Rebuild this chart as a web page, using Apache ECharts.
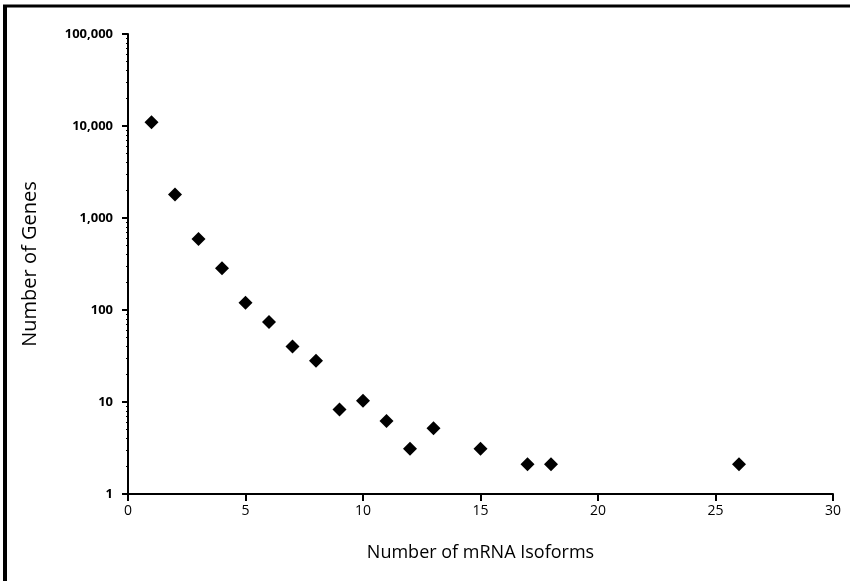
<!DOCTYPE html>
<html>
<head>
<meta charset="utf-8">
<script src="https://cdn.jsdelivr.net/npm/echarts@6/dist/echarts.min.js"></script>
<style>
  html, body { margin: 0; padding: 0; background: #fff; }
  #chart { width: 850px; height: 581px; }
</style>
</head>
<body>
<div id="chart"></div>
<script>
// isoform counts and number of genes
const isoforms = [1, 2, 3, 4, 5, 6, 7, 8, 9, 10, 11, 12, 13, 15, 17, 18, 26];
const geneCounts = [11000, 1800, 590, 285, 120, 74, 40, 28, 8.3, 10.3, 6.2, 3.1, 5.2, 3.1, 2.1, 2.1, 2.1];
const yTickLabels = { 1: '1', 10: '10', 100: '100', 1000: '1,000', 10000: '10,000', 100000: '100,000' };

const chart = echarts.init(document.getElementById('chart'));

const font = '"Open Sans", "Noto Sans", sans-serif';

const option = {
  animation: false,
  backgroundColor: '#fff',
  graphic: [
    // scanned page edge (left and top)
    { type: 'line', shape: { x1: 5, y1: 6, x2: 5, y2: 581 }, style: { stroke: '#000', lineWidth: 4 } },
    { type: 'line', shape: { x1: 3, y1: 6, x2: 850, y2: 6 }, style: { stroke: '#000', lineWidth: 3 } }
  ],
  grid: {
    left: 128,
    right: 17,
    top: 34,
    bottom: 87
  },
  xAxis: {
    type: 'value',
    min: 0,
    max: 30,
    interval: 5,
    name: 'Number of mRNA Isoforms',
    nameLocation: 'middle',
    nameGap: 50,
    nameTextStyle: { color: '#000', fontSize: 18, fontFamily: font },
    axisLine: { show: true, lineStyle: { color: '#000', width: 2 } },
    axisTick: { show: true, length: 7, lineStyle: { color: '#000', width: 2 } },
    axisLabel: { color: '#000', fontSize: 14, fontFamily: font, margin: 10 },
    splitLine: { show: false }
  },
  yAxis: {
    type: 'log',
    logBase: 10,
    min: 1,
    max: 100000,
    name: 'Number of Genes',
    nameLocation: 'middle',
    nameGap: 88,
    nameTextStyle: { color: '#000', fontSize: 20, fontFamily: font },
    axisLine: { show: true, lineStyle: { color: '#000', width: 2 } },
    axisTick: { show: true, length: 6, lineStyle: { color: '#000', width: 2 } },
    minorTick: { show: true, splitNumber: 9, length: 2, lineStyle: { color: '#000', width: 1 } },
    axisLabel: {
      color: '#000',
      fontSize: 13,
      fontWeight: 'bold',
      fontFamily: font,
      margin: 15,
      formatter: v => yTickLabels[Math.round(v)] || ''
    },
    splitLine: { show: false }
  },
  series: [
    {
      type: 'scatter',
      symbol: 'diamond',
      symbolSize: 14,
      itemStyle: { color: '#000', opacity: 1 },
      data: isoforms.map((x, i) => [x, geneCounts[i]])
    }
  ]
};

chart.setOption(option);
</script>
</body>
</html>
